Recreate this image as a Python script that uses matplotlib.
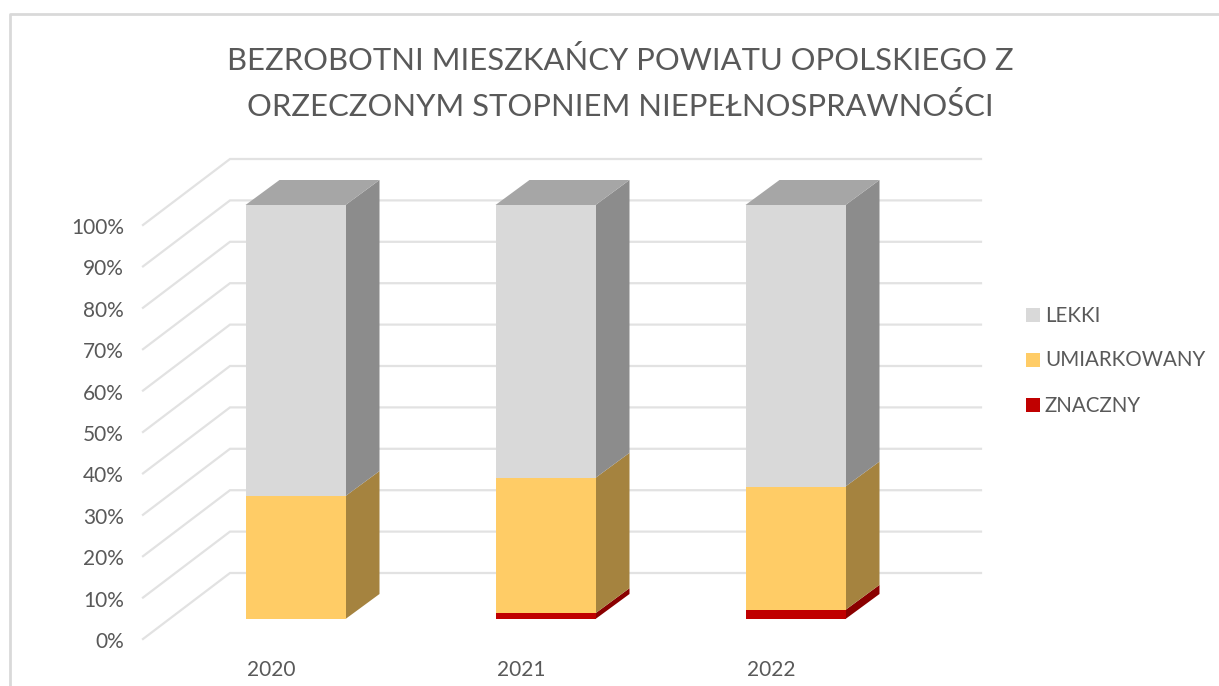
import matplotlib

matplotlib.use('Agg')

import matplotlib.pyplot as plt
from matplotlib.patches import Polygon, Rectangle

plt.rcParams['font.family'] = ['Lato', 'DejaVu Sans']

# data (percent of each year)
years = ['2020', '2021', '2022']
znaczny = [0.0, 1.4, 2.2]
umiarkowany = [29.7, 32.7, 29.8]
lekki = [70.3, 65.9, 68.0]
y_ticks = [0, 10, 20, 30, 40, 50, 60, 70, 80, 90, 100]

series = [
    ('ZNACZNY', znaczny, '#C00000', '#8A0000'),
    ('UMIARKOWANY', umiarkowany, '#FFCC66', '#A5833F'),
    ('LEKKI', lekki, '#D9D9D9', '#8C8C8C'),
]
top_color = '#A6A6A6'
grid_color = '#E2E2E2'
text_color = '#595959'

W, H = 1219, 686
PX_PER_CAT = 250.0
PX_PER_PCT = 4.14
X0_PX, Y0_PX = 295.5, 619.0  # where category 0 / 0% sits


def dx(px):
    return px / PX_PER_CAT


def dy(px):
    return px / PX_PER_PCT


fig = plt.figure(figsize=(W / 100, H / 100), dpi=100, facecolor='white')
ax = fig.add_axes([0, 0, 1, 1])
ax.set_xlim(-dx(X0_PX), dx(W - X0_PX))
ax.set_ylim(-dy(H - Y0_PX), dy(Y0_PX))
ax.axis('off')

# frame of the pasted chart
ax.plot([dx(9.5 - X0_PX), dx(9.5 - X0_PX), dx(W - X0_PX)],
        [-dy(H - Y0_PX), dy(Y0_PX - 13.5), dy(Y0_PX - 13.5)], color='#D9D9D9', lw=2, zorder=1)

# walls: side and back gridlines
x_front = dx(143 - X0_PX)
x_back = dx(230 - X0_PX)
x_end = dx(981 - X0_PX)
for v in y_ticks:
    ax.plot([x_front, x_back, x_end], [v - dy(20), v + dy(46), v + dy(46)],
            color=grid_color, lw=1.6, zorder=2, solid_joinstyle='miter')
    ax.text(dx(124 - X0_PX), v - dy(20) - dy(3), f'{v}%', ha='right', va='center',
            fontsize=15, color=text_color)

# 3D bars
half = dx(50)
depth_x, depth_y = dx(34), dy(25)
for i, year in enumerate(years):
    bottom = 0.0
    for name, values, front, side in series:
        v = values[i]
        if v > 0:
            top = bottom + v
            ax.add_patch(Polygon([(i + half, bottom), (i + half + depth_x, bottom + depth_y),
                                  (i + half + depth_x, top + depth_y), (i + half, top)],
                                 closed=True, fc=side, ec='none', zorder=3))
            ax.add_patch(Rectangle((i - half, bottom), 2 * half, v, fc=front, ec='none', zorder=4))
            bottom = top
    ax.add_patch(Polygon([(i - half, bottom), (i - half + depth_x, bottom + depth_y),
                          (i + half + depth_x, bottom + depth_y), (i + half, bottom)],
                         closed=True, fc=top_color, ec='none', zorder=4))
    ax.text(i - half + dx(26), -dy(51), year, ha='center', va='center', fontsize=15, color=text_color)

# title
ax.text(dx(620.5 - X0_PX), dy(Y0_PX - 60), 'BEZROBOTNI MIESZKAŃCY POWIATU OPOLSKIEGO Z',
        ha='center', va='center', fontsize=22.35, color=text_color)
ax.text(dx(620 - X0_PX), dy(Y0_PX - 107), 'ORZECZONYM STOPNIEM NIEPEŁNOSPRAWNOŚCI',
        ha='center', va='center', fontsize=22.35, color=text_color)

# legend
for (name, values, front, side), ypx in zip(series, [405, 360, 315]):
    ax.add_patch(Rectangle((dx(1026 - X0_PX), dy(Y0_PX - ypx - 7)), dx(14), dy(14), fc=front, ec='none', zorder=4))
    ax.text(dx(1045 - X0_PX), dy(Y0_PX - ypx - 0.5), name, ha='left', va='center', fontsize=14.8, color=text_color)

fig.savefig('out.png', dpi=100)
